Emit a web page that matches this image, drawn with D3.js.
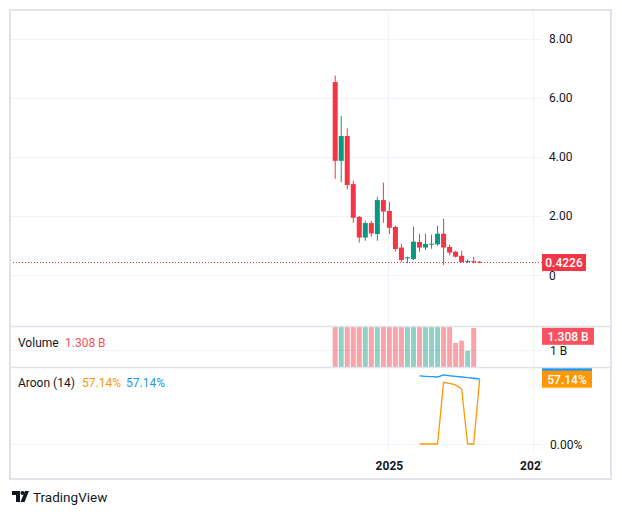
<!DOCTYPE html>
<html>
<head>
<meta charset="utf-8">
<script src="https://cdn.jsdelivr.net/npm/d3@7"></script>
<style>
body { margin: 0; background: #fff; }
svg { display: block; }
text { font-family: Roboto, sans-serif; }
</style>
</head>
<body>
<div id="chart"></div>
<script>
// monthly candles
const months = ["2024-04","2024-05","2024-06","2024-07","2024-08","2024-09","2024-10","2024-11","2024-12",
                "2025-01","2025-02","2025-03","2025-04","2025-05","2025-06","2025-07","2025-08","2025-09",
                "2025-10","2025-11","2025-12","2026-01","2026-02","2026-03","2026-04"];
const opens  = [6.54,3.87,4.71,3.08,1.97,1.27,1.76,1.39,2.54,2.17,1.63,0.93,0.58,0.54,1.12,0.93,1.03,1.04,1.40,0.95,0.79,0.65,0.46,0.47,0.45];
const highs  = [6.76,5.39,4.97,3.19,2.00,1.84,1.84,2.65,3.13,2.47,1.67,1.06,0.62,1.64,1.40,1.40,1.37,1.67,1.91,1.03,0.82,0.82,0.53,0.62,0.48];
const lows   = [3.26,3.15,2.90,1.77,1.10,1.16,1.30,1.16,1.77,1.39,0.80,0.45,0.40,0.51,0.79,0.85,0.89,0.99,0.34,0.67,0.59,0.43,0.40,0.40,0.40];
const closes = [3.87,4.71,3.05,1.94,1.27,1.76,1.41,2.54,2.15,1.60,0.88,0.51,0.60,1.13,0.93,1.05,1.06,1.40,0.93,0.76,0.62,0.44,0.48,0.44,0.4226];
// volume in billions (most bars run off the top of the pane)
const volumes = [3.2,2.9,2.6,3.5,2.8,2.1,1.9,2.7,2.4,2.0,2.3,1.8,1.6,2.2,1.7,1.5,1.6,1.9,2.5,1.7,1.10,1.13,0.99,1.308,null];
// Aroon (14), starts at the 15th bar
const aroonUp   = [null,null,null,null,null,null,null,null,null,null,null,null,null,null,
                   0,0,0,0,54.2,53.2,52.0,48.3,0,0,57.14];
const aroonDown = [null,null,null,null,null,null,null,null,null,null,null,null,null,null,
                   59.8,59.5,59.2,58.9,60.7,60.0,59.5,58.9,58.3,57.8,57.14];
const priceTicks = [0, 2, 4, 6, 8];
const priceTickLabels = ["0", "2.00", "4.00", "6.00", "8.00"];
const yearTickIdx = [9, 33];
const yearTickLabels = ["2025", "2027"];

const w = 622, h = 515;
const plotL = 10, plotR = 541.7;
const up = "#089981", down = "#f23645";
const gridColor = "#f0f3fa", borderColor = "#e0e3eb", textColor = "#131722";

const svg = d3.select("#chart").append("svg").attr("width", w).attr("height", h);

// clip paths
const defs = svg.append("defs");
function clip(id, y0, y1) {
    defs.append("clipPath").attr("id", id).append("rect")
        .attr("x", plotL).attr("y", y0).attr("width", plotR - plotL).attr("height", y1 - y0);
}
clip("cPrice", 10, 326);
clip("cVol", 327, 367);
clip("cAroon", 368, 452);
clip("cTime", 452, 479);

const x = d3.scaleLinear().domain([0, 24]).range([335.2, 479.7]);
const yPrice = d3.scaleLinear().domain([0, 8]).range([275, 39]);
const yVol = d3.scaleLinear().domain([0, 1]).range([421.4, 350]);
const yAroon = d3.scaleLinear().domain([0, 57.14]).range([444, 379]);

const candles = months.map((m, i) => ({m, i, o: opens[i], h: highs[i], l: lows[i], c: closes[i], v: volumes[i]}));

// grid
svg.append("g").selectAll("line").data(priceTicks).join("line")
    .attr("x1", plotL).attr("x2", plotR)
    .attr("y1", d => Math.round(yPrice(d)) + 0.5).attr("y2", d => Math.round(yPrice(d)) + 0.5)
    .attr("stroke", gridColor);
svg.append("line").attr("x1", plotL).attr("x2", plotR)
    .attr("y1", Math.round(yVol(1)) + 0.5).attr("y2", Math.round(yVol(1)) + 0.5).attr("stroke", gridColor);
svg.append("line").attr("x1", plotL).attr("x2", plotR)
    .attr("y1", Math.round(yAroon(0)) + 0.5).attr("y2", Math.round(yAroon(0)) + 0.5).attr("stroke", gridColor);
svg.append("g").selectAll("line").data(yearTickIdx).join("line")
    .attr("x1", d => Math.round(x(d)) - 0.5).attr("x2", d => Math.round(x(d)) - 0.5)
    .attr("y1", 10).attr("y2", 452)
    .attr("stroke", gridColor);

// candles
const cg = svg.append("g").attr("clip-path", "url(#cPrice)");
cg.selectAll(".wick").data(candles).join("rect")
    .attr("x", d => x(d.i) - 0.5).attr("width", 1)
    .attr("y", d => yPrice(d.h)).attr("height", d => yPrice(d.l) - yPrice(d.h))
    .attr("fill", d => d.c >= d.o ? up : down);
cg.selectAll(".body").data(candles).join("rect")
    .attr("x", d => x(d.i) - 2.5).attr("width", 5)
    .attr("y", d => yPrice(Math.max(d.o, d.c)))
    .attr("height", d => Math.max(1, Math.abs(yPrice(d.o) - yPrice(d.c))))
    .attr("fill", d => d.c >= d.o ? up : down);

// last price line
const last = closes[closes.length - 1];
svg.append("line").attr("x1", plotL).attr("x2", plotR)
    .attr("y1", yPrice(last)).attr("y2", yPrice(last))
    .attr("stroke", down).attr("stroke-dasharray", "1,2");

// volume
const vg = svg.append("g").attr("clip-path", "url(#cVol)");
vg.selectAll("rect").data(candles.filter(d => d.v != null)).join("rect")
    .attr("x", d => x(d.i) - 2.5).attr("width", 5)
    .attr("y", d => yVol(d.v)).attr("height", d => Math.max(0, 367 - yVol(d.v)))
    .attr("fill", d => d.c >= d.o ? "rgba(8,153,129,0.45)" : "rgba(242,54,69,0.45)");

// aroon
const ag = svg.append("g").attr("clip-path", "url(#cAroon)");
const lineGen = arr => d3.line().defined((d, i) => arr[i] != null).x((d, i) => x(i)).y((d, i) => yAroon(arr[i]))(arr);
ag.append("path").attr("d", lineGen(aroonDown)).attr("fill", "none").attr("stroke", "#2196f3").attr("stroke-width", 1.3);
ag.append("path").attr("d", lineGen(aroonUp)).attr("fill", "none").attr("stroke", "#ff9800").attr("stroke-width", 1.3);

// pane borders
[326.5, 367.5].forEach(yy => {
    svg.append("line").attr("x1", 10).attr("x2", 611).attr("y1", yy).attr("y2", yy)
        .attr("stroke", borderColor).attr("stroke-width", 1.5);
});
svg.append("rect").attr("x", 10).attr("y", 10).attr("width", 601).attr("height", 469)
    .attr("fill", "none").attr("stroke", borderColor).attr("stroke-width", 2);

// price axis labels
svg.append("g").selectAll("text").data(priceTicks).join("text")
    .attr("x", 549).attr("y", d => yPrice(d) + (d === 0 ? 5 : 4))
    .attr("font-size", "12px").attr("fill", textColor)
    .text((d, i) => priceTickLabels[i]);
svg.append("text").attr("x", 550).attr("y", yVol(1) + 5)
    .attr("font-size", "12px").attr("fill", textColor).text("1 B");
svg.append("text").attr("x", 550).attr("y", yAroon(0) + 5)
    .attr("font-size", "12px").attr("fill", textColor).text("0.00%");

// time axis
svg.append("g").attr("clip-path", "url(#cTime)")
    .selectAll("text").data(yearTickIdx).join("text")
    .attr("x", d => x(d)).attr("y", 470)
    .attr("text-anchor", "middle").attr("font-size", "12px").attr("font-weight", "bold")
    .attr("fill", textColor)
    .text((d, i) => yearTickLabels[i]);

// value labels on the scale
function tag(yc, txt, color, wdt) {
    svg.append("rect").attr("x", 542).attr("y", yc - 8.5).attr("width", wdt).attr("height", 17)
        .attr("fill", color);
    svg.append("text").attr("x", 542 + wdt / 2).attr("y", yc + 4.3)
        .attr("text-anchor", "middle")
        .attr("font-size", "12px").attr("font-weight", 500).attr("fill", "#fff").text(txt);
}
tag(yPrice(last), last.toFixed(4), down, 44);
const lastVol = volumes.filter(v => v != null).slice(-1)[0];
tag(336.3, lastVol.toFixed(3) + " B", "#f7525f", 52);
svg.append("rect").attr("x", 542).attr("y", 368.3).attr("width", 50).attr("height", 17).attr("fill", "#2196f3");
tag(379.2, aroonUp[aroonUp.length - 1].toFixed(2) + "%", "#ff9800", 50);

// legends
const vl = svg.append("text").attr("x", 18).attr("y", 346.5).attr("font-size", "12px");
vl.append("tspan").attr("fill", textColor).text("Volume");
vl.append("tspan").attr("x", 65).attr("fill", "#f7525f").text(lastVol.toFixed(3) + " B");
const al = svg.append("text").attr("x", 18).attr("y", 386.5).attr("font-size", "12px");
al.append("tspan").attr("fill", textColor).text("Aroon (14)");
al.append("tspan").attr("x", 82).attr("fill", "#ff9800").text(aroonUp[aroonUp.length - 1].toFixed(2) + "%");
al.append("tspan").attr("x", 126).attr("fill", "#2196f3").text(aroonDown[aroonDown.length - 1].toFixed(2) + "%");

// TradingView logo
const logo = svg.append("g").attr("transform", "translate(12,491)").attr("fill", textColor);
logo.append("path").attr("d", "M0 0 H8 V11 H4 V4 H0 Z");
logo.append("circle").attr("cx", 10.5).attr("cy", 2).attr("r", 2);
logo.append("path").attr("d", "M13 0 H17 L12.5 11 H8.5 Z");
svg.append("text").attr("x", 33).attr("y", 502).attr("font-size", "13.5px").attr("fill", textColor).text("TradingView");
</script>
</body>
</html>
